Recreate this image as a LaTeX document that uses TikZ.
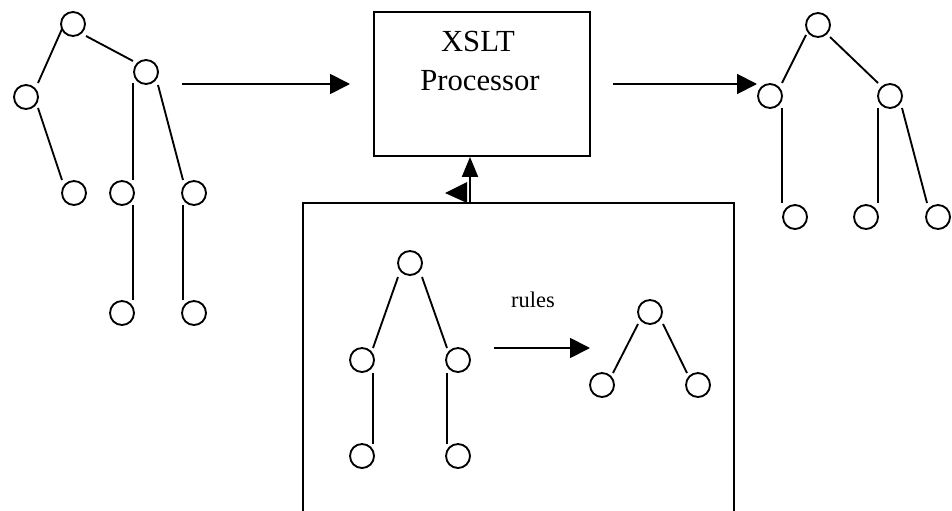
\documentclass[tikz,border=0pt]{standalone}
\usepackage{fontspec}
\setmainfont{Liberation Serif}
\usetikzlibrary{arrows.meta,calc}
\tikzset{
  treenode/.style={circle, draw, line width=1.4pt, minimum size=18pt, inner sep=0pt},
  branch/.style={line width=1.4pt},
  flow/.style={line width=1.4pt, -{Triangle[length=15pt,width=15pt]}},
  upflow/.style={line width=1.4pt, -{Triangle[length=15pt,width=12pt]}},
  frame/.style={draw, line width=1.4pt, rectangle, inner sep=0pt},
  bigtext/.style={font=\fontsize{23}{28}\selectfont, inner sep=0pt, anchor=base},
  smalltext/.style={font=\fontsize{16.8}{20}\selectfont, inner sep=0pt, anchor=base}
}
\begin{document}
\begin{tikzpicture}[x=0.75pt, y=-0.75pt]
\clip (0,0) rectangle (952,510);
\fill[white] (0,0) rectangle (952,510);

% input tree
\node[treenode] (a0) at (73,24) {};
\node[treenode] (a1) at (26,97) {};
\node[treenode] (a2) at (146,72) {};
\node[treenode] (a3) at (74,193) {};
\node[treenode] (a4) at (122,193) {};
\node[treenode] (a5) at (194,193) {};
\node[treenode] (a6) at (122,313) {};
\node[treenode] (a7) at (194,313) {};
\draw[branch] ($(a0)+(-11,5)$) -- ($(a1)+(12,-14)$);
\draw[branch] ($(a0)+(13,12)$) -- ($(a2)+(-13,-11)$);
\draw[branch] ($(a1)+(12,11)$) -- ($(a3)+(-12,-13)$);
\draw[branch] ($(a2)+(-13,11)$) -- ($(a4)+(11,-13)$);
\draw[branch] ($(a2)+(12,13)$) -- ($(a5)+(-11,-13)$);
\draw[branch] ($(a4)+(11,12)$) -- ($(a6)+(11,-13)$);
\draw[branch] ($(a5)+(-11,12)$) -- ($(a7)+(-11,-13)$);

% processor
\node[frame, minimum width=162pt, minimum height=108pt] (proc) at (482,84) {};
\node[bigtext] (proctitle) at (478,52) {XSLT};
\node[bigtext] (procsub) at (480,90) {Processor};

% output tree
\node[treenode] (b0) at (818,25) {};
\node[treenode] (b1) at (770,96) {};
\node[treenode] (b2) at (890,96) {};
\node[treenode] (b3) at (795,217) {};
\node[treenode] (b4) at (866,217) {};
\node[treenode] (b5) at (938,217) {};
\draw[branch] ($(b0)+(-12,10)$) -- ($(b1)+(12,-13)$);
\draw[branch] ($(b0)+(12,12)$) -- ($(b2)+(-12,-13)$);
\draw[branch] ($(b1)+(12,12)$) -- ($(b3)+(-13,-14)$);
\draw[branch] ($(b2)+(-12,12)$) -- ($(b4)+(12,-14)$);
\draw[branch] ($(b2)+(12,12)$) -- ($(b5)+(-11,-14)$);

% main flow
\coordinate (inL) at (182,84);
\coordinate (inR) at (350,84);
\coordinate (outL) at (613,84);
\coordinate (outR) at (757,84);
\draw[flow] (inL) -- (inR);
\draw[flow] (outL) -- (outR);

% stylesheet box
\node[frame, minimum width=323.25pt, minimum height=260pt] (sheet) at (518.5,376.3) {};
\coordinate (feed) at (470,203);
\draw[upflow] (feed) -- (feed |- proc.south);
\fill (445,193) -- (467,182) -- (467,203) -- cycle;

% template pattern
\node[treenode] (c0) at (410,263) {};
\node[treenode] (c1) at (362,360) {};
\node[treenode] (c2) at (458,360) {};
\node[treenode] (c3) at (362,456) {};
\node[treenode] (c4) at (458,456) {};
\draw[branch] ($(c0)+(-12,14)$) -- ($(c1)+(11,-12)$);
\draw[branch] ($(c0)+(12,14)$) -- ($(c2)+(-11,-12)$);
\draw[branch] ($(c1)+(11,13)$) -- ($(c3)+(11,-12)$);
\draw[branch] ($(c2)+(-11,13)$) -- ($(c4)+(-11,-12)$);

% rule arrow
\coordinate (ruleL) at (494,348);
\coordinate (ruleR) at (590,348);
\draw[flow] (ruleL) -- (ruleR);
\node[smalltext] (ruleslabel) at (533,307) {rules};

% template result
\node[treenode] (d0) at (650,312) {};
\node[treenode] (d1) at (602,385) {};
\node[treenode] (d2) at (698,385) {};
\draw[branch] ($(d0)+(-12,12)$) -- ($(d1)+(11,-12)$);
\draw[branch] ($(d0)+(13,12)$) -- ($(d2)+(-11,-12)$);
\end{tikzpicture}
\end{document}
